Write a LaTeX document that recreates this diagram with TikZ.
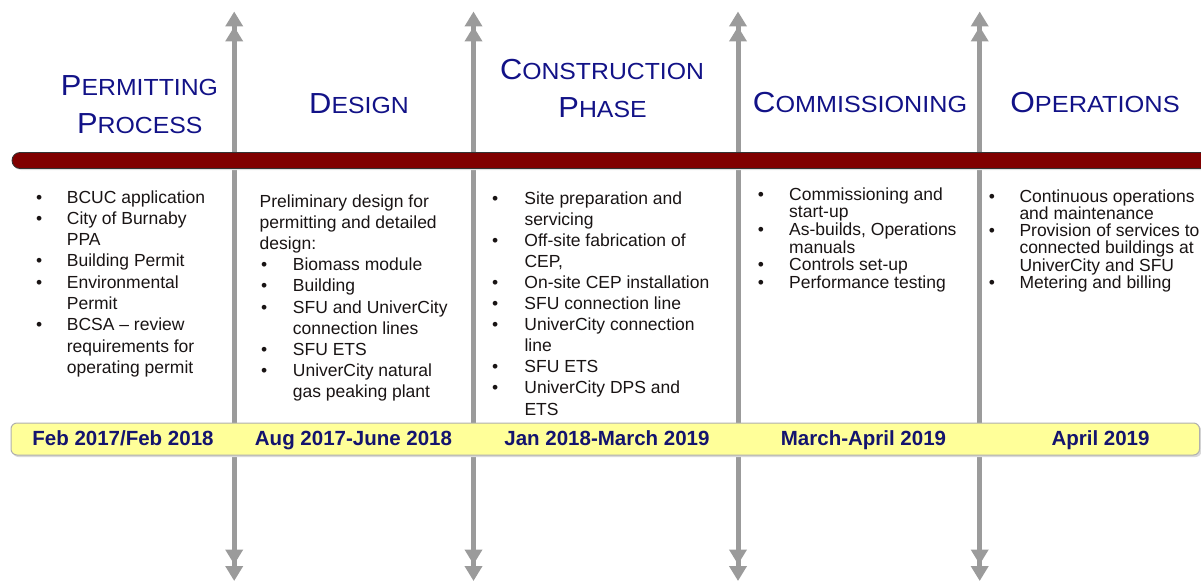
\documentclass[tikz,border=0pt]{standalone}
\usepackage{fontspec}
\setmainfont{Liberation Sans}
\usepackage{graphicx}
\usetikzlibrary{arrows.meta}
\definecolor{navyt}{RGB}{18,18,135}
\definecolor{navyd}{RGB}{20,20,110}
\definecolor{bodyc}{RGB}{25,20,20}
\definecolor{axisgray}{RGB}{155,155,155}
\definecolor{maroonbar}{RGB}{128,0,0}
\definecolor{yellowbar}{RGB}{255,255,153}
\definecolor{yellowedge}{RGB}{175,175,175}
\newcommand\ttl[3]{\scalebox{#3}[1]{{\fontsize{29}{30}\selectfont #1}{\fontsize{23.3}{30}\selectfont #2}}}
\newcommand\myb[2]{\makebox[#2][l]{\hspace*{#1}\textbullet}}
\newcommand\myi[1]{\hspace*{#1}}
\begin{document}
\begin{tikzpicture}[x=1pt,y=-1pt,
  title/.style={anchor=base, inner sep=0pt, text=navyt},
  datelbl/.style={anchor=base, inner sep=0pt, text=navyd, font=\fontsize{20.5}{22}\selectfont\bfseries},
  body/.style={anchor=base west, inner sep=0pt, align=left, text=bodyc},
  bodyA/.style={body, font=\fontsize{17.5}{21.3}\selectfont},
  bodyB/.style={body, font=\fontsize{17.5}{17.6}\selectfont},
  dbl/.style={line width=5pt, draw=axisgray,
    {Triangle[width=17pt,length=15pt,sep=1.5pt]Triangle[width=17pt,length=15pt]}-{Triangle[width=17pt,length=15pt,sep=1.5pt]Triangle[width=17pt,length=15pt]}},
  barM/.style={fill=maroonbar, draw=black!80, line width=0.8pt, rounded corners=8pt},
  barY/.style={fill=yellowbar, draw=yellowedge, line width=1pt, rounded corners=6pt}
]
\useasboundingbox (0,0) rectangle (1201,583);

% vertical time dividers
\foreach \i/\x in {1/234.2,2/473.5,3/738,4/979.7}{
  \coordinate (top\i) at (\x,10);
  \coordinate (bot\i) at (\x,581);
  \draw[dbl] (top\i) -- (bot\i);
}

% maroon bar
\fill[rounded corners=8pt, black!12] (13,154) rectangle (1215,170);
\path[barM] (12,152.5) rectangle (1215,168.5);

% yellow date bar
\fill[rounded corners=6pt, black!15] (12.5,425) rectangle (1201.5,457);
\path[barY] (11,423) rectangle (1199.5,455);

% titles
\node[title] (p1) at (139.5,95.7) {\ttl{P}{ERMITTING}{1.065}};
\node[title] (p2) at (139.8,133.3) {\ttl{P}{ROCESS}{1.065}};
\node[title] (d1) at (359,113.3) {\ttl{D}{ESIGN}{1.065}};
\node[title] (c1) at (602,80) {\ttl{C}{ONSTRUCTION}{1.063}};
\node[title] (c2) at (602.5,117.3) {\ttl{P}{HASE}{1.066}};
\node[title] (m1) at (860,113) {\ttl{C}{OMMISSIONING}{1.08}};
\node[title] (o1) at (1095,113) {\ttl{O}{PERATIONS}{1.09}};

% column texts (anchored at the baseline of the last line)
\node[bodyA] (col1) at (36,373.4) {%
\myb{0pt}{30.7pt}BCUC application\\
\myb{0pt}{30.7pt}City of Burnaby\\
\myi{30.7pt}PPA\\
\myb{0pt}{30.7pt}Building Permit\\
\myb{0pt}{30.7pt}Environmental\\
\myi{30.7pt}Permit\\
\myb{0pt}{30.7pt}BCSA – review\\
\myi{30.7pt}requirements for\\
\myi{30.7pt}operating permit};

\node[bodyA, font=\fontsize{17.5}{21.2}\selectfont] (col2) at (259.5,397.8) {%
Preliminary design for\\
permitting and detailed\\
design:\\
\myb{1.5pt}{33.2pt}Biomass module\\
\myb{1.5pt}{33.2pt}Building\\
\myb{1.5pt}{33.2pt}SFU and UniverCity\\
\myi{33.2pt}connection lines\\
\myb{1.5pt}{33.2pt}SFU ETS\\
\myb{1.5pt}{33.2pt}UniverCity natural\\
\myi{33.2pt}gas peaking plant};

\node[bodyA, font=\fontsize{17.5}{21.1}\selectfont] (col3) at (492,415) {%
\myb{0pt}{32.3pt}Site preparation and\\
\myi{32.3pt}servicing\\
\myb{0pt}{32.3pt}Off-site fabrication of\\
\myi{32.3pt}CEP,\\
\myb{0pt}{32.3pt}On-site CEP installation\\
\myb{0pt}{32.3pt}SFU connection line\\
\myb{0pt}{32.3pt}UniverCity connection\\
\myi{32.3pt}line\\
\myb{0pt}{32.3pt}SFU ETS\\
\myb{0pt}{32.3pt}UniverCity DPS and\\
\myi{32.3pt}ETS};

\node[bodyB, font=\fontsize{17.5}{17.7}\selectfont] (col4) at (757.7,288.5) {%
\myb{0pt}{31.3pt}Commissioning and\\
\myi{31.3pt}start-up\\
\myb{0pt}{31.3pt}As-builds, Operations\\
\myi{31.3pt}manuals\\
\myb{0pt}{31.3pt}Controls set-up\\
\myb{0pt}{31.3pt}Performance testing};

\node[bodyB, font=\fontsize{17.5}{17.3}\selectfont] (col5) at (988.7,288.5) {%
\myb{0pt}{30.6pt}Continuous operations\\
\myi{30.6pt}and maintenance\\
\myb{0pt}{30.6pt}Provision of services to\\
\myi{30.6pt}connected buildings at\\
\myi{30.6pt}UniverCity and SFU\\
\myb{0pt}{30.6pt}Metering and billing};

% dates
\node[datelbl] (dt1) at (123,445) {Feb 2017/Feb 2018};
\node[datelbl] (dt2) at (353.5,445) {Aug 2017-June 2018};
\node[datelbl] (dt3) at (607,445) {Jan 2018-March 2019};
\node[datelbl] (dt4) at (863.5,445) {March-April 2019};
\node[datelbl] (dt5) at (1100.5,445) {April 2019};
\end{tikzpicture}
\end{document}
